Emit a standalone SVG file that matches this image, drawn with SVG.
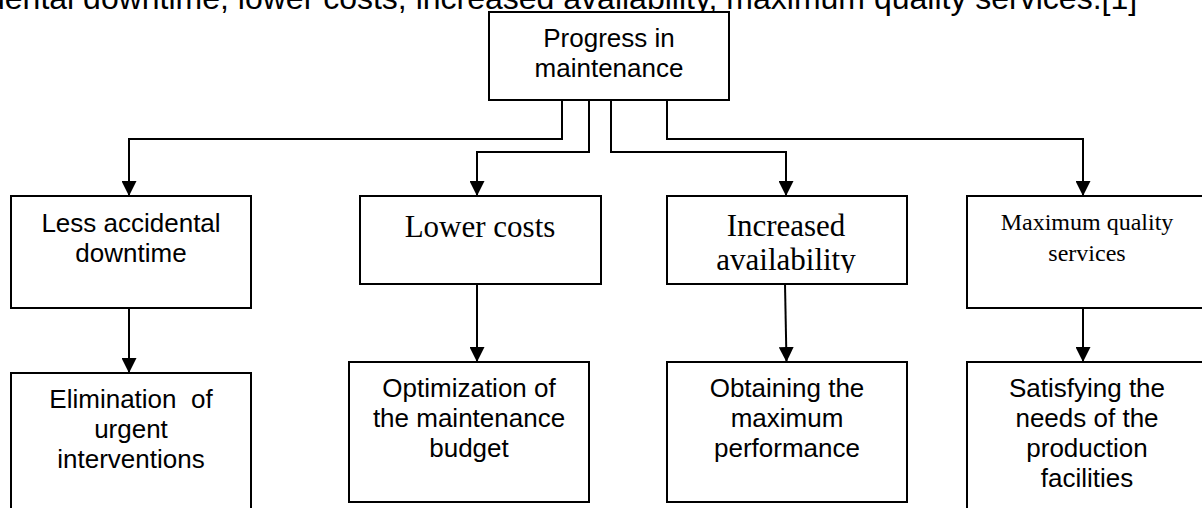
<svg xmlns="http://www.w3.org/2000/svg" width="1202" height="508" viewBox="0 0 1202 508">
<style>
.box{fill:#fff;stroke:#000;stroke-width:2}
.sans{font-family:"Liberation Sans",Arial,sans-serif;font-size:26px;fill:#000;text-anchor:middle}
.serif{font-family:"Liberation Serif","Times New Roman",serif;fill:#000;text-anchor:middle}
.conn{fill:none;stroke:#000;stroke-width:2}
.hdr{font-family:"Liberation Sans",Arial,sans-serif;font-size:32px;fill:#000}
</style>
<defs>
<marker id="ah" markerUnits="userSpaceOnUse" markerWidth="15" markerHeight="15" refX="15" refY="7.5" orient="auto">
<path d="M0,0 L15,7.5 L0,15 z" fill="#000"/>
</marker>
<clipPath id="clipInc"><rect x="667" y="196" width="240" height="77"/></clipPath>
</defs>
<rect width="1202" height="508" fill="#fff"/>
<text class="hdr" x="-13" y="9">dental downtime, lower costs, increased availability, maximum quality services.[1]</text>

<g id="connectors">
<path class="conn" d="M562,100 V139 H129 V196" marker-end="url(#ah)"/>
<path class="conn" d="M589,100 V152 H477 V196" marker-end="url(#ah)"/>
<path class="conn" d="M611,100 V152 H786 V196" marker-end="url(#ah)"/>
<path class="conn" d="M667,100 V139 H1083 V196" marker-end="url(#ah)"/>
<path class="conn" d="M129,308 V373" marker-end="url(#ah)"/>
<path class="conn" d="M477,284 V362" marker-end="url(#ah)"/>
<path class="conn" d="M785,284 L786.5,362" marker-end="url(#ah)"/>
<path class="conn" d="M1083,283 V362" marker-end="url(#ah)"/>
</g>

<g id="progress">
<rect class="box" x="489" y="12" width="240" height="88"/>
<text class="sans" x="609" y="47">Progress in</text>
<text class="sans" x="609" y="77">maintenance</text>
</g>

<g id="less-downtime">
<rect class="box" x="11" y="196" width="240" height="112"/>
<text class="sans" x="131" y="232" font-size="25">Less accidental</text>
<text class="sans" x="131" y="262" font-size="25">downtime</text>
</g>

<g id="lower-costs">
<rect class="box" x="360" y="196" width="241" height="88"/>
<text class="serif" x="480" y="237" font-size="31">Lower costs</text>
</g>

<g id="increased-availability">
<rect class="box" x="667" y="196" width="240" height="88"/>
<g clip-path="url(#clipInc)">
<text class="serif" x="786" y="236" font-size="31">Increased</text>
<text class="serif" x="786" y="270" font-size="31">availability</text>
</g>
</g>

<g id="maximum-quality">
<rect class="box" x="967" y="196" width="240" height="112"/>
<text class="serif" x="1087" y="230" font-size="24">Maximum quality</text>
<text class="serif" x="1087" y="261" font-size="24">services</text>
</g>

<g id="elimination">
<path class="box" d="M11,509 V373 H251 V509"/>
<text class="sans" x="131" y="408" xml:space="preserve">Elimination  of</text>
<text class="sans" x="131" y="438">urgent</text>
<text class="sans" x="131" y="468">interventions</text>
</g>

<g id="optimization">
<rect class="box" x="349" y="362" width="240" height="140"/>
<text class="sans" x="469" y="397">Optimization of</text>
<text class="sans" x="469" y="427">the maintenance</text>
<text class="sans" x="469" y="457">budget</text>
</g>

<g id="obtaining">
<rect class="box" x="667" y="362" width="240" height="140"/>
<text class="sans" x="787" y="397">Obtaining the</text>
<text class="sans" x="787" y="427">maximum</text>
<text class="sans" x="787" y="457">performance</text>
</g>

<g id="satisfying">
<path class="box" d="M967,509 V362 H1207"/>
<text class="sans" x="1087" y="397">Satisfying the</text>
<text class="sans" x="1087" y="427">needs of the</text>
<text class="sans" x="1087" y="457">production</text>
<text class="sans" x="1087" y="487">facilities</text>
</g>
</svg>
